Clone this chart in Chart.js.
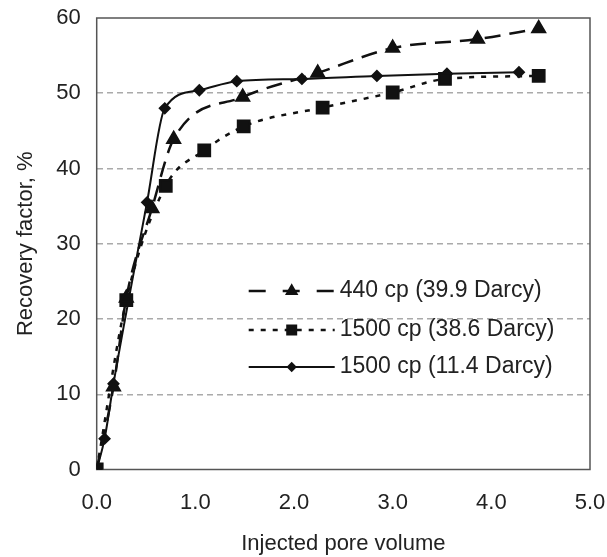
<!DOCTYPE html>
<html>
<head>
<meta charset="utf-8">
<script src="https://cdn.jsdelivr.net/npm/chart.js@4.4.0/dist/chart.umd.min.js"></script>
<style>
  html, body { margin: 0; padding: 0; background: #fff; }
  #wrap { width: 607px; height: 557px; }
</style>
</head>
<body>
<div id="wrap"><canvas id="chart1" width="607" height="557"></canvas></div>
<script>
// series: 440 cp (39.9 Darcy)
var pv440 = [0, 0.17, 0.30, 0.56, 0.78, 1.48, 2.24, 3.00, 3.86, 4.48];
var rf440 = [0, 11.0, 22.8, 34.7, 43.9, 49.5, 52.7, 56.0, 57.2, 58.6];

// series: 1500 cp (38.6 Darcy)
var pv1500a = [0, 0.30, 0.70, 1.09, 1.49, 2.29, 3.00, 3.53, 4.48];
var rf1500a = [0, 22.5, 37.7, 42.4, 45.6, 48.1, 50.1, 51.9, 52.3];

// series: 1500 cp (11.4 Darcy)
var pv1500b = [0, 0.08, 0.17, 0.51, 0.69, 1.04, 1.42, 2.08, 2.84, 3.55, 4.28];
var rf1500b = [0, 4.1, 11.4, 35.5, 48.0, 50.4, 51.6, 51.9, 52.3, 52.6, 52.8];

var seriesLabels = ['440 cp (39.9 Darcy)', '1500 cp (38.6 Darcy)', '1500 cp (11.4 Darcy)'];
var xTicks = [0, 1, 2, 3, 4, 5];
var yTicks = [0, 10, 20, 30, 40, 50, 60];

function toPoints(xs, ys) {
	var out = [];
	for (var i = 0; i < xs.length; i++) out.push({x: xs[i], y: ys[i]});
	return out;
}

var FONT = 'Liberation Sans, Arial, sans-serif';
var ink = '#222';

// frame round the plot area
var framePlugin = {
	id: 'frame',
	beforeDatasetsDraw: function(chart) {
		var a = chart.chartArea, c = chart.ctx;
		c.save();
		c.strokeStyle = '#555';
		c.lineWidth = 1.5;
		c.strokeRect(a.left, a.top, a.right - a.left, a.bottom - a.top);
		c.restore();
	}
};

// legend inside the plot, lower right
var legendPlugin = {
	id: 'innerLegend',
	afterDraw: function(chart) {
		var a = chart.chartArea, c = chart.ctx;
		var x0 = a.left + 152, x1 = a.left + 238, tx = a.left + 243;
		var rows = [a.top + 273, a.top + 312, a.top + 349];
		chart.data.datasets.forEach(function(ds, i) {
			var y = rows[i];
			c.save();
			c.strokeStyle = ds.borderColor;
			c.lineWidth = ds.borderWidth;
			c.setLineDash(ds.legendDash || ds.borderDash || []);
			c.beginPath();
			c.moveTo(x0, y);
			c.lineTo(x1, y);
			c.stroke();
			c.setLineDash([]);
			c.fillStyle = ds.pointBackgroundColor;
			c.strokeStyle = ds.pointBorderColor;
			Chart.helpers.drawPoint(c, {pointStyle: ds.pointStyle, radius: ds.pointRadius * 0.75, borderWidth: 1}, (x0 + x1) / 2, y);
			c.fillStyle = ink;
			c.font = '23px ' + FONT;
			c.textBaseline = 'middle';
			c.textAlign = 'left';
			c.fillText(ds.label, tx, y);
			c.restore();
		});
	}
};

var ctx = document.getElementById('chart1').getContext('2d');
var chart1 = new Chart(ctx, {
	type: 'line',
	data: {
		datasets: [{
			label: seriesLabels[0],
			data: toPoints(pv440, rf440),
			borderColor: '#111',
			borderWidth: 2.5,
			borderDash: [16, 9],
			legendDash: [17, 17],
			pointStyle: 'triangle',
			pointRadius: 7,
			pointBackgroundColor: '#111',
			pointBorderColor: '#111',
			cubicInterpolationMode: 'monotone'
		}, {
			label: seriesLabels[1],
			data: toPoints(pv1500a, rf1500a),
			borderColor: '#111',
			borderWidth: 2.5,
			borderDash: [5, 7],
			pointStyle: 'rect',
			pointRadius: 8,
			pointBackgroundColor: '#111',
			pointBorderColor: '#111',
			cubicInterpolationMode: 'monotone'
		}, {
			label: seriesLabels[2],
			data: toPoints(pv1500b, rf1500b),
			borderColor: '#111',
			borderWidth: 2,
			pointStyle: 'rectRot',
			pointRadius: 5,
			pointBackgroundColor: '#111',
			pointBorderColor: '#111',
			cubicInterpolationMode: 'monotone'
		}]
	},
	options: {
		responsive: false,
		animation: false,
		layout: { padding: { top: 18, right: 17, left: 0, bottom: 0 } },
		plugins: { legend: { display: false }, tooltip: { enabled: false } },
		scales: {
			x: {
				type: 'linear',
				min: 0, max: 5,
				afterBuildTicks: function(s) { s.ticks = xTicks.map(function(v) { return {value: v}; }); },
				afterFit: function(s) { s.height = 87.5; s.paddingLeft = 0; s.paddingRight = 0; },
				grid: { display: false, drawTicks: false },
				border: { display: false },
				ticks: {
					padding: 20,
					color: ink,
					font: { family: FONT, size: 22 },
					maxRotation: 0,
					callback: function(v) { return v.toFixed(1); }
				},
				title: {
					display: true,
					text: 'Injected pore volume',
					color: ink,
					font: { family: FONT, size: 22 },
					padding: { top: 4, bottom: 0 }
				}
			},
			y: {
				min: 0, max: 60,
				afterBuildTicks: function(s) { s.ticks = yTicks.map(function(v) { return {value: v}; }); },
				afterFit: function(s) { s.width = 96.7; s.paddingTop = 0; s.paddingBottom = 0; },
				grid: {
					color: function(c) { return (c.tick.value > 0 && c.tick.value < 60) ? '#aaa' : 'rgba(0,0,0,0)'; },
					lineWidth: 1.5,
					drawTicks: false
				},
				border: { display: false, dash: [6, 4] },
				ticks: {
					padding: 16,
					color: ink,
					font: { family: FONT, size: 22 }
				},
				title: {
					display: true,
					text: 'Recovery factor, %',
					color: ink,
					font: { family: FONT, size: 22 },
					padding: { top: 13, bottom: 4 }
				}
			}
		}
	},
	plugins: [framePlugin, legendPlugin]
});
</script>
</body>
</html>
